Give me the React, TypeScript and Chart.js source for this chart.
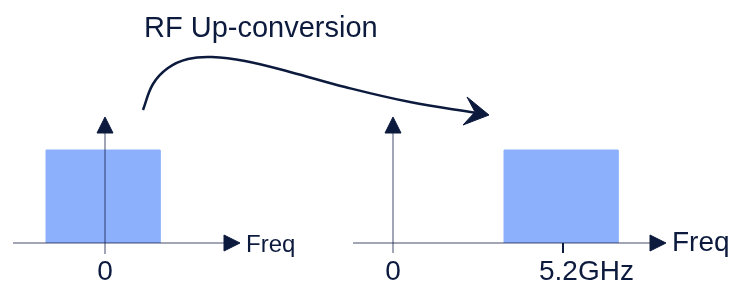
import React, { useEffect, useRef } from "react";
import { Chart, registerables } from "chart.js";

Chart.register(...registerables);

// Diagram units: x across the figure, y = height above the frequency baseline
const titleText = "RF Up-conversion";
const axisNames = ["Freq", "Freq"];
const tickLabels = ["0", "0", "5.2GHz"];

const basebandBand = [
  { x: 46, y: 0 }, { x: 46, y: 93 }, { x: 160, y: 93 }, { x: 160, y: 0 },
];
const rfBand = [
  { x: 504, y: 0 }, { x: 504, y: 93 }, { x: 618, y: 93 }, { x: 618, y: 0 },
];
const leftFreqAxis = [{ x: 13, y: 0 }, { x: 226, y: 0 }];
const leftAmpAxis = [{ x: 105, y: -11 }, { x: 105, y: 111 }];
const rightFreqAxis = [{ x: 353, y: 0 }, { x: 651, y: 0 }];
const rightAmpAxis = [{ x: 393, y: -10 }, { x: 393, y: 111 }];
const carrierTick = [{ x: 563, y: 0 }, { x: 563, y: -10 }];

const leftFreqHead = [{ x: 224, y: 8 }, { x: 240, y: 0 }, { x: 224, y: -8 }, { x: 224, y: 8 }];
const leftAmpHead = [{ x: 97, y: 110 }, { x: 105, y: 126 }, { x: 113, y: 110 }, { x: 97, y: 110 }];
const rightFreqHead = [{ x: 650, y: 8 }, { x: 666, y: 0 }, { x: 650, y: -8 }, { x: 650, y: 8 }];
const rightAmpHead = [{ x: 385, y: 110 }, { x: 393, y: 126 }, { x: 401, y: 110 }, { x: 385, y: 110 }];

const conversionCurve = [
  { x: 143, y: 133 }, { x: 153, y: 159 }, { x: 168, y: 175 }, { x: 188, y: 184 },
  { x: 212, y: 186 }, { x: 245, y: 182 }, { x: 290, y: 171 }, { x: 345, y: 156 },
  { x: 410, y: 141 }, { x: 477, y: 130 },
];
const conversionHead = [
  { x: 489, y: 128 }, { x: 467, y: 146 }, { x: 475, y: 131 }, { x: 463, y: 118 }, { x: 489, y: 128 },
];

// text anchors: [x, y]
const titlePos = [144, 206];
const axisNamePos = [[246, -9], [672, -8]];
const tickLabelPos = [[105, -37], [393, -37], [539, -37]];

const NAVY = "#0c1a3d";
const AXIS = "rgba(20,30,70,0.4)";
const BAND = "#8db0fd";

export default function App() {
  const ref = useRef<HTMLCanvasElement | null>(null);

  useEffect(() => {
    document.body.style.margin = "0";
    const canvas = ref.current!;
    const line = (data: any[], color: string, width = 2, order = 1) => ({
      type: "line" as const,
      data,
      order,
      borderColor: color,
      borderWidth: width,
      pointRadius: 0,
      fill: false,
      showLine: true,
      borderCapStyle: "butt" as const,
    });
    const poly = (data: any[], color: string, fill: any, order = 0) => ({
      type: "line" as const,
      data,
      order,
      borderColor: color,
      borderWidth: 1,
      backgroundColor: color,
      pointRadius: 0,
      fill,
      showLine: true,
    });

    const textPlugin = {
      id: "texts",
      afterDatasetsDraw(chart: any) {
        const { ctx, scales } = chart;
        const px = (v: number) => scales.x.getPixelForValue(v);
        const py = (v: number) => scales.y.getPixelForValue(v);
        ctx.save();
        ctx.fillStyle = NAVY;
        ctx.textBaseline = "alphabetic";
        ctx.textAlign = "left";
        ctx.font = "29px 'Liberation Sans', Arial, sans-serif";
        ctx.fillText(titleText, px(titlePos[0]), py(titlePos[1]));
        const nameSizes = [24, 28];
        axisNames.forEach((t, i) => {
          ctx.font = `${nameSizes[i]}px 'Liberation Sans', Arial, sans-serif`;
          ctx.fillText(t, px(axisNamePos[i][0]), py(axisNamePos[i][1]));
        });
        ctx.font = "28px 'Liberation Sans', Arial, sans-serif";
        tickLabels.forEach((t, i) => {
          ctx.textAlign = i < 2 ? "center" : "left";
          ctx.fillText(t, px(tickLabelPos[i][0]), py(tickLabelPos[i][1]));
        });
        ctx.restore();
      },
    };

    const chart = new Chart(canvas, {
      type: "scatter",
      data: {
        datasets: [
          poly(basebandBand, BAND, "origin", 10),
          poly(rfBand, BAND, "origin", 10),
          line(leftFreqAxis, AXIS),
          line(leftAmpAxis, AXIS),
          line(rightFreqAxis, AXIS),
          line(rightAmpAxis, AXIS),
          line(carrierTick, NAVY),
          poly(leftFreqHead, NAVY, "shape"),
          poly(leftAmpHead, NAVY, "shape"),
          poly(rightFreqHead, NAVY, "shape"),
          poly(rightAmpHead, NAVY, "shape"),
          { ...line(conversionCurve, NAVY, 2.5), tension: 0.4 },
          poly(conversionHead, NAVY, "shape"),
        ] as any,
      },
      options: {
        animation: false,
        responsive: false,
        maintainAspectRatio: false,
        layout: { padding: 0 },
        plugins: { legend: { display: false }, tooltip: { enabled: false }, title: { display: false } },
        scales: {
          x: { type: "linear", min: 0, max: 733, display: false },
          y: { type: "linear", min: -40, max: 243, display: false },
        },
        elements: { line: { tension: 0 } },
      },
      plugins: [textPlugin],
    });
    return () => chart.destroy();
  }, []);

  return (
    <div style={{ width: 733, height: 283, background: "#fff" }}>
      <canvas ref={ref} width={733} height={283} />
    </div>
  );
}
